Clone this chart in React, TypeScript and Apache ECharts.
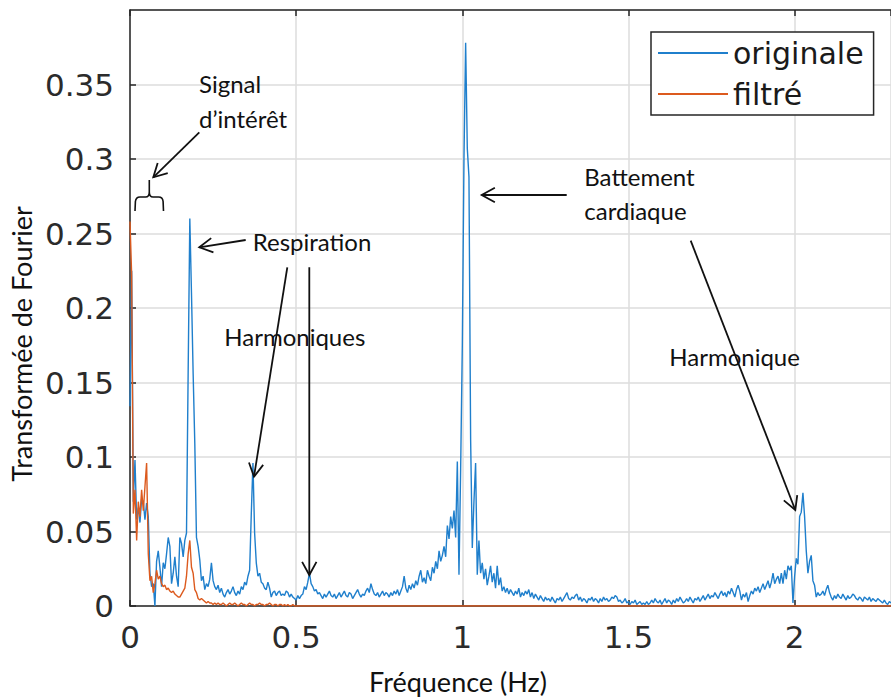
import React, { useEffect, useRef } from "react";
import * as echarts from "echarts";

// ---------------- data ----------------
// Frequency grid: one sample every 0.005 Hz, starting at 0 Hz
const FREQ_STEP = 0.005;
const FREQ_MAX = 2.29;
const Y_MAX = 0.4;
const X_INTERVAL = 0.5;
const Y_INTERVAL = 0.05;

// "originale" spectrum, in thousandths, one row per 0.1 Hz (20 samples)
const originalMilli = [
  134, 225, 70, 98, 58, 66, 56, 72, 70, 58, 69, 60, 22, 13, 15, 0, 30, 37, 26, 13,
  29, 25, 35, 46, 40, 15, 22, 33, 20, 13, 46, 42, 33, 44, 49, 157, 260, 210, 156, 109,
  46, 40, 31, 17, 20, 11, 15, 13, 18, 29, 17, 13, 11, 14, 9, 12, 8, 6, 9, 11,
  8, 10, 13, 9, 7, 10, 8, 13, 11, 16, 14, 20, 24, 62, 96, 49, 29, 20, 22, 16,
  15, 12, 11, 16, 12, 6, 9, 10, 7, 9, 10, 7, 8, 7, 10, 9, 6, 8, 6, 5,
  4, 7, 5, 7, 8, 13, 11, 16, 22, 15, 13, 10, 11, 8, 9, 7, 5, 8, 6, 8,
  10, 7, 6, 8, 5, 7, 9, 6, 8, 10, 7, 6, 9, 8, 5, 7, 9, 11, 8, 6,
  8, 7, 10, 12, 9, 15, 11, 8, 7, 9, 6, 8, 10, 7, 9, 8, 6, 9, 7, 10,
  8, 11, 7, 10, 13, 20, 12, 9, 14, 11, 15, 12, 17, 14, 20, 24, 16, 19, 15, 24,
  20, 17, 26, 22, 30, 25, 37, 30, 34, 40, 33, 54, 45, 60, 52, 64, 46, 97, 21, 92,
  175, 300, 378, 307, 288, 112, 39, 70, 96, 21, 44, 22, 29, 18, 25, 14, 20, 27, 16, 22,
  12, 27, 14, 19, 10, 13, 9, 12, 8, 11, 9, 7, 10, 8, 12, 6, 9, 7, 10, 8,
  11, 6, 9, 5, 8, 6, 4, 7, 5, 3, 6, 4, 5, 3, 6, 4, 2, 5, 4, 6,
  3, 5, 7, 9, 5, 4, 6, 5, 7, 8, 4, 6, 3, 5, 4, 2, 5, 4, 6, 3,
  5, 4, 2, 5, 3, 6, 4, 5, 3, 4, 6, 5, 7, 6, 3, 4, 2, 3, 5, 2,
  3, 1, 3, 2, 4, 1, 2, 3, 1, 2, 1, 3, 1, 2, 4, 2, 5, 3, 2, 4,
  1, 3, 5, 2, 4, 3, 1, 4, 2, 5, 3, 6, 4, 2, 3, 5, 3, 6, 4, 2,
  5, 4, 6, 3, 5, 7, 4, 6, 8, 5, 7, 6, 9, 7, 5, 8, 10, 7, 9, 6,
  10, 8, 12, 9, 6, 11, 14, 10, 4, 8, 6, 9, 3, 7, 10, 8, 12, 10, 13, 9,
  12, 15, 11, 14, 17, 12, 16, 22, 15, 18, 20, 15, 22, 15, 24, 18, 27, 24, 27, 2,
  20, 32, 28, 60, 63, 76, 60, 37, 22, 30, 34, 17, 14, 6, 9, 7, 8, 10, 7, 11,
  14, 9, 6, 4, 7, 5, 8, 6, 5, 8, 6, 4, 7, 5, 6, 8, 7, 5, 4, 6,
  5, 3, 6, 5, 4, 6, 3, 5, 4, 3, 5, 4, 3, 2, 4, 2, 1, 3, 2,
];

// "filtré" spectrum, in thousandths, 0 -> 0.5 Hz (flat zero afterwards)
const filteredMilli = [
  258, 222, 62, 78, 44, 70, 60, 78, 64, 80, 96, 35, 17, 20, 9, 15, 24, 18, 20, 15,
  13, 14, 11, 12, 10, 9, 10, 8, 7, 6, 6, 8, 10, 12, 20, 35, 44, 26, 22, 11,
  9, 5, 4, 5, 4, 3, 2, 3, 2, 2, 1, 2, 1, 2, 1, 1, 2, 1, 0, 1,
  2, 1, 1, 2, 1, 0, 1, 2, 1, 1, 0, 1, 2, 1, 1, 0, 1, 1, 2, 1,
  1, 0, 1, 1, 2, 1, 0, 1, 1, 0, 1, 1, 0, 1, 0, 1, 0, 0, 1, 0,
  0,
];
const filteredTail = [[FREQ_MAX, 0]];

const SERIES_NAMES = ["originale", "filtré"];
const COLORS = ["#1f7fcc", "#dc5a1e"];

// ---------------- annotations (pixel positions) ----------------
const INK = "#111111";
const ARROWS: number[][] = [
  [199.3, 132.3, 153.3, 177.3],
  [245.7, 240, 199.3, 247.3],
  [287.3, 267.3, 254, 476.7],
  [309.3, 267.3, 309.3, 575],
  [566.7, 195, 481.7, 195],
  [690.7, 240.7, 795.3, 510],
];
const NOTES: [string, number, number][] = [
  ["Signal", 199, 83],
  ["d\u2019intérêt", 199, 118],
  ["Respiration", 252.7, 241],
  ["Harmoniques", 224.3, 336.5],
  ["Battement", 584.3, 176],
  ["cardiaque", 584.3, 210],
  ["Harmonique", 669.3, 356.5],
];
const BRACE_D =
  "M135 211 L135.4 201.5 Q135.9 197 140 197 L145.6 197 Q149.3 197 149.3 192 L149.3 180 M149.3 192 Q149.3 197 153 197 L158.6 197 Q162.7 197 163.1 201.5 L163.5 211";

echarts.graphic.registerShape("brace", echarts.graphic.extendPath(BRACE_D, {}));

function arrowEls(a: number[]) {
  const [x1, y1, x2, y2] = a;
  const ang = Math.atan2(y2 - y1, x2 - x1);
  const L = 15;
  const spread = 0.5;
  const p1 = [x2 - L * Math.cos(ang - spread), y2 - L * Math.sin(ang - spread)];
  const p2 = [x2 - L * Math.cos(ang + spread), y2 - L * Math.sin(ang + spread)];
  return [
    { type: "line", z: 50, shape: { x1, y1, x2, y2 }, style: { stroke: INK, lineWidth: 1.8 } },
    {
      type: "polyline",
      z: 50,
      shape: { points: [p1, [x2, y2], p2] },
      style: { stroke: INK, lineWidth: 1.8, fill: null },
    },
  ];
}

function textEl(text: string, x: number, y: number, size: number, align = "left", rotation = 0) {
  return {
    type: "text",
    z: 50,
    x,
    y,
    rotation,
    style: {
      text,
      fontFamily: "Lato",
      fontSize: size,
      fill: INK,
      align,
      textAlign: align,
      verticalAlign: "middle",
      textVerticalAlign: "middle",
    },
  };
}

export default function App() {
  const ref = useRef<HTMLDivElement>(null);

  useEffect(() => {
    if (!ref.current) return;
    const chart = echarts.init(ref.current, null, { renderer: "svg" });

    const originalData = originalMilli.map((v, i) => [+(i * FREQ_STEP).toFixed(3), v / 1000]);
    const filteredData = filteredMilli
      .map((v, i) => [+(i * FREQ_STEP).toFixed(3), v / 1000])
      .concat(filteredTail);

    const axisLineStyle = { color: "#262626", width: 1.5 };
    const labelStyle = {
      fontFamily: "DejaVu Sans",
      fontSize: 31,
      color: "#2b2b2b",
    };

    const graphic: any[] = [];
    ARROWS.forEach((a) => graphic.push(...arrowEls(a)));
    NOTES.forEach(([t, x, y]) => graphic.push(textEl(t, x, y, 24)));
    graphic.push({
      type: "brace",
      z: 50,
      x: 0,
      y: 0,
      style: { stroke: INK, lineWidth: 1.6, fill: "none" },
    });
    graphic.push(textEl("Fréquence (Hz)", 458, 681, 27, "center"));
    graphic.push(textEl("Transformée de Fourier", 21, 344, 27, "center", Math.PI / 2));

    chart.setOption({
      animation: false,
      backgroundColor: "#ffffff",
      grid: { left: 130, top: 10, right: 0, bottom: 92, containLabel: false },
      legend: {
        orient: "vertical",
        left: 651,
        top: 32,
        padding: [6, 10, 6, 7],
        itemGap: 11,
        itemWidth: 70,
        itemHeight: 2,
        icon: "rect",
        backgroundColor: "#ffffff",
        borderColor: "#262626",
        borderWidth: 1.5,
        borderRadius: 0,
        textStyle: { fontFamily: "DejaVu Sans", fontSize: 30, color: "#1a1a1a" },
        data: SERIES_NAMES,
        z: 60,
      },
      xAxis: [
        {
          type: "value",
          min: 0,
          max: FREQ_MAX,
          interval: X_INTERVAL,
          position: "bottom",
          axisLine: { show: true, onZero: false, lineStyle: axisLineStyle },
          axisTick: { show: true, inside: true, length: 6, lineStyle: axisLineStyle },
          axisLabel: { ...labelStyle, margin: 15, showMaxLabel: false },
          splitLine: { show: true, lineStyle: { color: "#dcdcdc", width: 1.5 } },
        },
        {
          type: "value",
          min: 0,
          max: FREQ_MAX,
          interval: X_INTERVAL,
          position: "top",
          axisLine: { show: true, onZero: false, lineStyle: axisLineStyle },
          axisTick: { show: true, inside: true, length: 6, lineStyle: axisLineStyle },
          axisLabel: { show: false },
          splitLine: { show: false },
        },
      ],
      yAxis: {
        type: "value",
        min: 0,
        max: Y_MAX,
        interval: Y_INTERVAL,
        axisLine: { show: true, onZero: false, lineStyle: axisLineStyle },
        axisTick: { show: true, inside: true, length: 6, lineStyle: axisLineStyle },
        axisLabel: { ...labelStyle, margin: 16, showMaxLabel: false },
        splitLine: { show: true, lineStyle: { color: "#dcdcdc", width: 1.5 } },
      },
      series: [
        {
          name: SERIES_NAMES[0],
          type: "line",
          xAxisIndex: 0,
          data: originalData,
          symbol: "none",
          color: COLORS[0],
          lineStyle: { color: COLORS[0], width: 1.4 },
          z: 3,
        },
        {
          name: SERIES_NAMES[1],
          type: "line",
          xAxisIndex: 0,
          data: filteredData,
          symbol: "none",
          color: COLORS[1],
          lineStyle: { color: COLORS[1], width: 1.4 },
          z: 4,
        },
      ],
      graphic,
    });

    return () => chart.dispose();
  }, []);

  return (
    <div
      ref={ref}
      style={{ position: "fixed", left: 0, top: 0, width: 891, height: 698, background: "#fff" }}
    />
  );
}
